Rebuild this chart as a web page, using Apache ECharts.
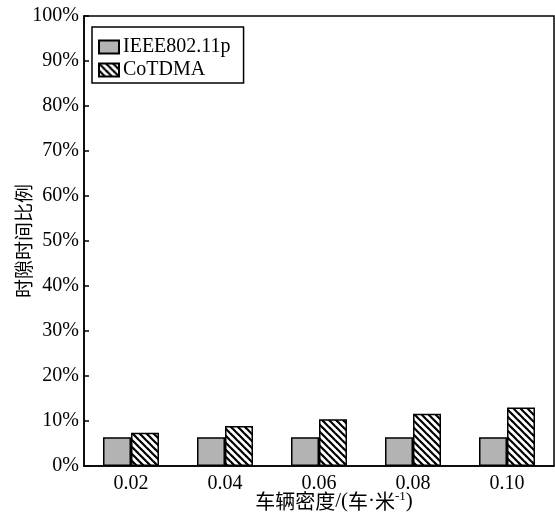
<!DOCTYPE html>
<html>
<head>
<meta charset="utf-8">
<script src="https://cdn.jsdelivr.net/npm/echarts@6/dist/echarts.min.js"></script>
<style>
  html, body { margin: 0; padding: 0; background: #ffffff; }
  #chart { width: 555px; height: 517px; }
</style>
</head>
<body>
<div id="chart"></div>
<script>
// Vehicle density categories and slot-time ratios (%)
const densities = ['0.02', '0.04', '0.06', '0.08', '0.10'];
const ieeeValues = [6.4, 6.4, 6.4, 6.4, 6.4];
const cotdmaValues = [7.4, 8.9, 10.4, 11.6, 13.0];
const seriesNames = ['IEEE802.11p', 'CoTDMA'];

const serif = '"Liberation Serif", "Times New Roman", serif';
const cjk = '"Noto Sans CJK SC", sans-serif';

// Diagonal hatch tile for the CoTDMA bars
function makeHatch() {
  const s = 7;
  const c = document.createElement('canvas');
  c.width = s; c.height = s;
  const g = c.getContext('2d');
  g.fillStyle = '#ffffff';
  g.fillRect(0, 0, s, s);
  g.strokeStyle = '#000000';
  g.lineWidth = 2.2;
  for (const off of [-s, 0, s]) {
    g.beginPath();
    g.moveTo(-1, -1 + off);
    g.lineTo(s + 1, s + 1 + off);
    g.stroke();
  }
  return c;
}

const chart = echarts.init(document.getElementById('chart'), null, { renderer: 'canvas' });

chart.setOption({
  backgroundColor: '#ffffff',
  animation: false,
  grid: {
    left: 84, right: 1, top: 16, bottom: 51,
    outerBoundsMode: 'none',
    containLabel: false,
    show: true, borderColor: '#000000', borderWidth: 1.5, backgroundColor: 'transparent'
  },
  legend: {
    orient: 'vertical',
    left: 92, top: 27,
    padding: [10, 13, 3, 6],
    itemGap: 3,
    itemWidth: 20, itemHeight: 13,
    borderColor: '#000000', borderWidth: 1.5,
    icon: 'rect',
    textStyle: { fontFamily: serif, fontSize: 20, color: '#000000', padding: [0, 0, 0, -1] },
    data: seriesNames
  },
  xAxis: {
    type: 'category',
    data: densities,
    axisLine: { lineStyle: { color: '#000000', width: 1.5 } },
    axisTick: { inside: true, length: 6, alignWithLabel: false, lineStyle: { color: '#000000', width: 1.5 } },
    axisLabel: { fontFamily: serif, fontSize: 20, color: '#000000', margin: 8 },
    name: '{c|车辆密度}{s|/(}{c|车}{s|·}{c|米}{sup|-1}{s|)}',
    nameLocation: 'middle',
    nameGap: 24,
    nameMoveOverlap: false,
    nameTextStyle: {
      color: '#000000', padding: [0, 0, 0, 30],
      rich: {
        c: { fontFamily: cjk, fontSize: 20, color: '#000000' },
        s: { fontFamily: serif, fontSize: 21, color: '#000000' },
        sup: { fontFamily: serif, fontSize: 13, color: '#000000', verticalAlign: 'top', padding: [0, 0, 10, 0] }
      }
    }
  },
  yAxis: {
    type: 'value',
    min: 0, max: 100, interval: 10,
    axisLine: { show: true, lineStyle: { color: '#000000', width: 1.5 } },
    axisTick: { show: true, inside: true, length: 5, lineStyle: { color: '#000000', width: 1.5 } },
    splitLine: { show: false },
    axisLabel: { fontFamily: serif, fontSize: 20, color: '#000000', margin: 5, formatter: '{value}%' },
    name: '时隙时间比例',
    nameLocation: 'middle',
    nameGap: 51,
    nameMoveOverlap: false,
    nameTextStyle: { fontFamily: cjk, fontSize: 19, color: '#000000' }
  },
  series: [
    {
      name: seriesNames[0],
      type: 'bar',
      data: ieeeValues,
      barWidth: 28,
      barGap: '0%',
      itemStyle: { color: '#b3b3b3', borderColor: '#000000', borderWidth: 1.5 }
    },
    {
      name: seriesNames[1],
      type: 'bar',
      data: cotdmaValues,
      barWidth: 28,
      barGap: '0%',
      itemStyle: { color: { image: makeHatch(), repeat: 'repeat' }, borderColor: '#000000', borderWidth: 1.5 }
    }
  ]
});
</script>
</body>
</html>
